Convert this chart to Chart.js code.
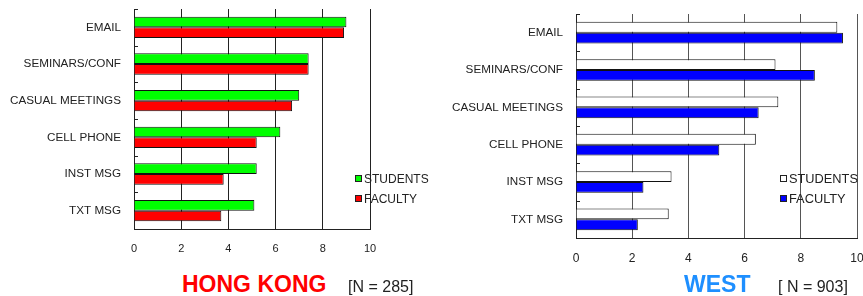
<!DOCTYPE html>
<html>
<head>
<meta charset="utf-8">
<script src="https://cdn.jsdelivr.net/npm/chart.js@4.4.0/dist/chart.umd.min.js"></script>
<style>
  body { margin: 0; background: #fff; font-family: "Liberation Sans", Arial, sans-serif; }
  #page { position: relative; width: 863px; height: 296px; overflow: hidden; }
  canvas { position: absolute; }
  .legend { position: absolute; color: #222; }
  .legend div { height: 20px; line-height: 14px; white-space: nowrap; }
  .legend span.box { display: inline-block; width: 5px; height: 5px; border: 1px solid #222; margin-right: 2px; vertical-align: 1px; }
  .title { position: absolute; font-weight: bold; font-size: 23px; white-space: nowrap; }
  .note { position: absolute; font-size: 16px; color: #222; white-space: nowrap; }
</style>
</head>
<body>
<div id="page">
  <canvas id="hk" width="400" height="265" style="left:0;top:0"></canvas>
  <canvas id="west" width="433" height="272" style="left:430px;top:0"></canvas>

  <div class="legend" style="left:355px;top:172px;font-size:12px">
    <div><span class="box" style="background:#00ff00"></span>STUDENTS</div>
    <div><span class="box" style="background:#ff0000"></span>FACULTY</div>
  </div>
  <div class="legend" style="left:780px;top:172px;font-size:12.8px">
    <div><span class="box" style="background:#fff"></span>STUDENTS</div>
    <div><span class="box" style="background:#0000ff"></span>FACULTY</div>
  </div>

  <div class="title" style="left:182px;top:271px;color:#ff0000">HONG KONG</div>
  <div class="note" style="left:348px;top:278px">[N = 285]</div>
  <div class="title" style="left:684px;top:271px;color:#1e8fff">WEST</div>
  <div class="note" style="left:778px;top:278px">[ N = 903]</div>
</div>
<script>
const categories = ['EMAIL', 'SEMINARS/CONF', 'CASUAL MEETINGS', 'CELL PHONE', 'INST MSG', 'TXT MSG'];
const hkStudents = [9.0, 7.4, 7.0, 6.2, 5.2, 5.1];
const hkFaculty = [8.9, 7.4, 6.7, 5.2, 3.8, 3.7];
const westStudents = [9.3, 7.1, 7.2, 6.4, 3.4, 3.3];
const westFaculty = [9.5, 8.5, 6.5, 5.1, 2.4, 2.2];
const xTicks = [0, 2, 4, 6, 8, 10];

// small marks on the value axis between categories
const catMarks = {
  id: 'catMarks',
  afterDraw(chart) {
    const y = chart.scales.y;
    const ctx = chart.ctx;
    const x0 = chart.chartArea.left;
    ctx.save();
    ctx.strokeStyle = '#222';
    ctx.lineWidth = 1;
    for (let i = 0; i <= categories.length; i++) {
      const py = Math.round(y.getPixelForValue(i - 0.5)) + 0.5;
      ctx.beginPath();
      ctx.moveTo(x0, py);
      ctx.lineTo(x0 + 4, py);
      ctx.stroke();
    }
    ctx.restore();
  }
};

function makeChart(id, students, faculty, colStudents, colFaculty, pad, yWidth, xHeight, gridColor, xFont) {
  const ctx = document.getElementById(id).getContext('2d');
  return new Chart(ctx, {
    type: 'bar',
    data: {
      labels: categories,
      datasets: [
        { label: 'STUDENTS', data: students, backgroundColor: colStudents, borderColor: '#111', borderWidth: 1 },
        { label: 'FACULTY', data: faculty, backgroundColor: colFaculty, borderColor: '#111', borderWidth: 1 }
      ]
    },
    options: {
      indexAxis: 'y',
      responsive: false,
      animation: false,
      devicePixelRatio: 1,
      layout: { padding: pad },
      datasets: { bar: { categoryPercentage: 0.58, barPercentage: 1.0, borderSkipped: 'start' } },
      plugins: { legend: { display: false }, tooltip: { enabled: false } },
      scales: {
        x: {
          min: 0, max: 10,
          afterBuildTicks: s => { s.ticks = xTicks.map(v => ({ value: v })); },
          afterFit: s => { s.height = xHeight; s.paddingLeft = 0; s.paddingRight = 0; },
          grid: { color: gridColor, lineWidth: 1, drawTicks: false },
          border: { display: true, color: '#222', width: 1 },
          ticks: { padding: 13, color: '#222', font: { family: 'Liberation Sans', size: xFont } }
        },
        y: {
          afterFit: s => { s.width = yWidth; s.paddingTop = 0; s.paddingBottom = 0; },
          grid: { display: false, drawTicks: false },
          border: { display: true, color: '#222', width: 1 },
          ticks: { padding: 13, color: '#222', font: { family: 'Liberation Sans', size: 11.7 } }
        }
      }
    },
    plugins: [catMarks]
  });
}

makeChart('hk', hkStudents, hkFaculty, '#00ff00', '#ff0000',
  { top: 9, right: 30, left: 0, bottom: 0 }, 134, 36, '#222', 11);
makeChart('west', westStudents, westFaculty, '#ffffff', '#0000ff',
  { top: 14, right: 6, left: 0, bottom: 0 }, 146, 34, '#555', 12);
</script>
</body>
</html>
